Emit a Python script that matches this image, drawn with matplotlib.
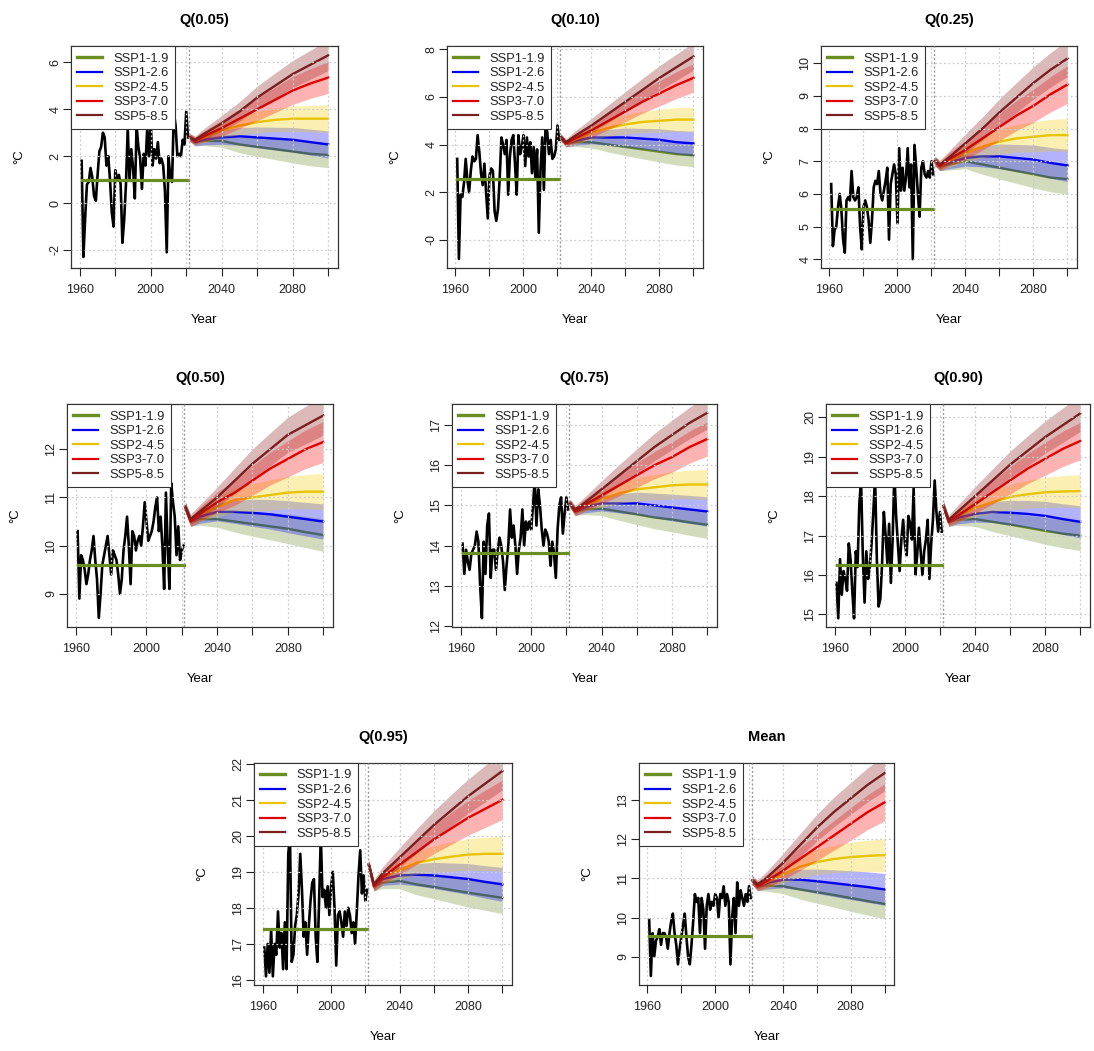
import numpy as np
import matplotlib.pyplot as plt
from matplotlib.lines import Line2D

plt.rcParams['font.family'] = ['Liberation Sans', 'DejaVu Sans']

# ---- data ----
panel_titles = ['Q(0.05)', 'Q(0.10)', 'Q(0.25)', 'Q(0.50)', 'Q(0.75)', 'Q(0.90)', 'Q(0.95)', 'Mean']
hist_years = list(range(1961, 2022))
proj_years = [2022, 2025, 2030, 2040, 2050, 2060, 2070, 2080, 2090, 2100]
scenarios = ['SSP1-1.9', 'SSP1-2.6', 'SSP2-4.5', 'SSP3-7.0', 'SSP5-8.5']

hist_q05 = [1.8, -2.3, -0.6, 0.8, 0.9, 1.5, 1.1, 0.3, 0.1, 1.2, 2.2, 2.4, 3.0, 2.8, 1.6, 2.0, 1.0, -0.4, -1.0, 1.4,
            1.0, 1.2, 0.8, -1.7, -0.7, 0.8, 3.2, 1.0, 2.3, 1.5, 0.2, 3.3, 2.4, 1.9, 0.6, 2.1, 1.6, 3.2, 2.0, 3.4,
            1.6, 2.3, 1.9, 2.6, 1.7, 1.9, 1.6, 0.5, -2.1, 2.0, 1.1, 0.9, 3.9, 3.3, 2.0, 2.1, 2.0, 2.7, 2.5, 3.9, 2.8]
hist_q10 = [3.4, -0.8, 1.9, 1.8, 2.4, 3.4, 2.5, 2.0, 2.9, 3.5, 3.3, 3.4, 4.4, 3.7, 2.8, 2.3, 3.2, 2.0, 0.9, 2.7,
            3.0, 2.9, 1.2, 0.8, 1.3, 2.6, 4.3, 4.0, 3.6, 4.2, 1.9, 3.5, 4.2, 4.4, 3.2, 1.9, 4.4, 3.6, 3.9, 4.4,
            3.1, 4.3, 3.5, 4.1, 2.8, 3.9, 2.6, 3.8, 0.3, 2.9, 4.3, 2.1, 4.9, 4.5, 3.6, 4.2, 3.4, 3.5, 3.8, 4.8, 4.2]
hist_q25 = [6.3, 4.4, 4.9, 5.0, 5.6, 6.0, 5.5, 4.6, 4.2, 5.8, 5.9, 5.8, 6.7, 5.9, 5.8, 5.9, 6.2, 5.0, 4.3, 5.6,
            5.8, 5.6, 5.2, 4.5, 5.2, 6.2, 6.4, 6.3, 6.7, 6.0, 5.8, 6.1, 6.4, 6.8, 4.6, 6.3, 6.6, 6.9, 6.6, 5.1,
            7.4, 6.1, 6.8, 6.1, 6.5, 7.4, 6.2, 6.9, 4.0, 7.5, 6.8, 6.0, 5.3, 6.8, 7.0, 6.6, 6.5, 6.7, 6.5, 7.0, 6.6]
hist_q50 = [10.3, 8.9, 9.8, 9.7, 9.5, 9.2, 9.4, 9.7, 9.9, 10.2, 9.7, 9.3, 8.5, 9.0, 9.6, 9.8, 10.0, 10.2, 9.8, 9.4,
            9.9, 9.8, 9.7, 9.4, 9.0, 9.3, 9.9, 10.2, 10.6, 10.0, 9.2, 10.3, 10.2, 9.9, 10.1, 10.2, 10.0, 10.4, 10.9, 10.5,
            10.1, 10.2, 10.3, 10.5, 10.8, 11.0, 10.3, 10.6, 10.0, 9.1, 11.1, 10.0, 9.1, 11.3, 10.9, 10.6, 9.8, 10.4, 9.7, 9.9, 10.0]
hist_q75 = [14.05, 13.3, 13.9, 13.6, 13.4, 13.8, 13.9, 14.0, 14.35, 14.1, 13.0, 12.2, 14.1, 13.3, 14.5, 14.8, 13.2, 13.9, 13.9, 13.4,
            13.9, 14.2, 14.0, 13.6, 12.9, 13.5, 14.0, 14.9, 14.2, 14.5, 14.0, 13.3, 13.9, 14.2, 14.9, 14.0, 14.6, 14.4, 14.6, 14.4,
            15.0, 15.6, 14.5, 15.4, 15.0, 14.4, 14.0, 14.4, 14.3, 14.1, 13.5, 14.1, 13.8, 13.2, 14.4, 15.0, 15.2, 14.3, 14.8, 15.2, 14.9]
hist_q90 = [15.8, 14.9, 16.4, 15.5, 16.1, 15.9, 15.6, 16.8, 16.4, 15.6, 14.9, 16.6, 16.2, 17.8, 18.4, 16.5, 15.3, 16.6, 15.9, 16.2,
            16.8, 17.6, 18.5, 16.4, 15.2, 15.4, 16.3, 17.6, 17.0, 16.3, 17.3, 15.8, 16.9, 18.6, 17.5, 16.8, 16.1, 16.9, 17.4, 16.8,
            16.5, 17.5, 17.3, 16.9, 18.2, 16.0, 16.5, 17.2, 16.6, 16.0, 16.6, 16.9, 17.4, 15.9, 16.8, 17.4, 18.4, 17.6, 17.1, 17.6, 17.1]
hist_q95 = [16.9, 16.1, 17.0, 16.2, 17.4, 16.1, 17.0, 16.7, 17.9, 16.9, 17.3, 16.3, 17.6, 16.3, 19.5, 20.0, 16.5, 16.7, 17.5, 17.8,
            18.4, 19.5, 18.5, 17.2, 17.6, 16.7, 17.5, 18.2, 18.7, 18.8, 17.2, 16.5, 18.2, 20.0, 18.3, 18.5, 18.0, 18.6, 17.8, 18.6,
            19.0, 18.0, 16.4, 17.8, 17.9, 17.6, 17.2, 17.9, 17.5, 18.0, 17.8, 17.3, 17.6, 17.0, 17.9, 18.9, 19.6, 18.4, 18.9, 18.2, 18.5]
hist_mean = [9.95, 8.5, 9.6, 9.0, 9.4, 9.5, 9.7, 9.3, 9.6, 9.6, 9.5, 9.2, 9.6, 9.9, 10.1, 9.6, 9.3, 8.8, 9.2, 9.5,
             9.8, 10.1, 9.5, 9.0, 8.8, 9.3, 9.9, 10.6, 10.4, 10.5, 9.6, 10.5, 10.2, 9.2, 10.3, 10.6, 10.2, 10.4, 10.3, 10.6,
             10.5, 10.0, 10.6, 10.5, 10.8, 10.3, 10.6, 10.4, 8.8, 10.0, 10.5, 9.6, 10.9, 10.3, 10.7, 10.5, 10.3, 10.6, 10.4, 10.8, 10.5]

# 1961-2021 baseline level (green horizontal line)
baseline = [1.0, 2.55, 5.55, 9.6, 13.82, 16.25, 17.42, 9.52]

# projected central values per scenario, at proj_years
proj_q05 = {'SSP1-1.9': [2.8, 2.6, 2.65, 2.65, 2.5, 2.4, 2.3, 2.2, 2.1, 2.05],
            'SSP1-2.6': [2.8, 2.6, 2.7, 2.8, 2.85, 2.8, 2.75, 2.7, 2.6, 2.5],
            'SSP2-4.5': [2.8, 2.65, 2.8, 3.1, 3.3, 3.45, 3.55, 3.6, 3.6, 3.6],
            'SSP3-7.0': [2.8, 2.65, 2.85, 3.2, 3.6, 4.0, 4.4, 4.8, 5.1, 5.35],
            'SSP5-8.5': [2.8, 2.7, 2.95, 3.4, 3.9, 4.5, 5.0, 5.5, 5.9, 6.3]}
proj_q10 = {'SSP1-1.9': [4.3, 4.05, 4.1, 4.1, 4.0, 3.9, 3.8, 3.7, 3.6, 3.55],
            'SSP1-2.6': [4.3, 4.05, 4.15, 4.3, 4.3, 4.3, 4.25, 4.2, 4.1, 4.05],
            'SSP2-4.5': [4.3, 4.05, 4.2, 4.5, 4.7, 4.85, 4.95, 5.0, 5.05, 5.05],
            'SSP3-7.0': [4.3, 4.05, 4.25, 4.6, 5.0, 5.4, 5.8, 6.15, 6.5, 6.8],
            'SSP5-8.5': [4.3, 4.1, 4.35, 4.8, 5.3, 5.8, 6.3, 6.8, 7.25, 7.7]}
proj_q25 = {'SSP1-1.9': [7.0, 6.85, 6.9, 7.0, 6.9, 6.8, 6.7, 6.6, 6.5, 6.45],
            'SSP1-2.6': [7.0, 6.85, 6.95, 7.1, 7.15, 7.15, 7.1, 7.05, 6.95, 6.87],
            'SSP2-4.5': [7.0, 6.85, 7.0, 7.25, 7.45, 7.6, 7.7, 7.75, 7.8, 7.8],
            'SSP3-7.0': [7.0, 6.85, 7.05, 7.35, 7.7, 8.05, 8.4, 8.7, 9.05, 9.35],
            'SSP5-8.5': [7.0, 6.9, 7.1, 7.55, 8.0, 8.5, 8.95, 9.4, 9.8, 10.15]}
proj_q50 = {'SSP1-1.9': [10.8, 10.5, 10.55, 10.55, 10.5, 10.45, 10.4, 10.35, 10.28, 10.22],
            'SSP1-2.6': [10.8, 10.5, 10.6, 10.7, 10.7, 10.68, 10.65, 10.6, 10.55, 10.5],
            'SSP2-4.5': [10.8, 10.5, 10.65, 10.8, 10.95, 11.0, 11.05, 11.1, 11.12, 11.12],
            'SSP3-7.0': [10.8, 10.5, 10.65, 10.9, 11.1, 11.35, 11.6, 11.8, 12.0, 12.15],
            'SSP5-8.5': [10.8, 10.55, 10.7, 11.0, 11.35, 11.7, 12.0, 12.3, 12.5, 12.7]}
proj_q75 = {'SSP1-1.9': [15.05, 14.85, 14.9, 14.92, 14.85, 14.78, 14.7, 14.65, 14.58, 14.52],
            'SSP1-2.6': [15.05, 14.85, 14.95, 15.05, 15.05, 15.05, 15.0, 14.95, 14.9, 14.85],
            'SSP2-4.5': [15.05, 14.85, 15.0, 15.15, 15.3, 15.4, 15.45, 15.5, 15.52, 15.52],
            'SSP3-7.0': [15.05, 14.85, 15.0, 15.25, 15.5, 15.75, 16.0, 16.2, 16.45, 16.65],
            'SSP5-8.5': [15.05, 14.9, 15.05, 15.4, 15.75, 16.1, 16.45, 16.75, 17.05, 17.3]}
proj_q90 = {'SSP1-1.9': [17.75, 17.35, 17.4, 17.42, 17.35, 17.28, 17.2, 17.12, 17.05, 17.0],
            'SSP1-2.6': [17.75, 17.35, 17.45, 17.55, 17.6, 17.58, 17.55, 17.5, 17.42, 17.35],
            'SSP2-4.5': [17.75, 17.35, 17.5, 17.7, 17.85, 17.98, 18.05, 18.1, 18.12, 18.13],
            'SSP3-7.0': [17.75, 17.35, 17.5, 17.8, 18.1, 18.4, 18.7, 18.95, 19.2, 19.4],
            'SSP5-8.5': [17.75, 17.4, 17.6, 18.0, 18.4, 18.8, 19.15, 19.5, 19.8, 20.1]}
proj_q95 = {'SSP1-1.9': [19.2, 18.6, 18.7, 18.75, 18.65, 18.58, 18.5, 18.42, 18.35, 18.28],
            'SSP1-2.6': [19.2, 18.6, 18.8, 18.9, 18.92, 18.9, 18.85, 18.8, 18.72, 18.65],
            'SSP2-4.5': [19.2, 18.6, 18.85, 19.05, 19.25, 19.35, 19.42, 19.48, 19.5, 19.5],
            'SSP3-7.0': [19.2, 18.6, 18.85, 19.2, 19.55, 19.9, 20.2, 20.5, 20.75, 21.0],
            'SSP5-8.5': [19.2, 18.65, 18.95, 19.4, 19.85, 20.3, 20.7, 21.1, 21.45, 21.8]}
proj_mean = {'SSP1-1.9': [10.95, 10.8, 10.82, 10.8, 10.72, 10.65, 10.58, 10.5, 10.42, 10.35],
             'SSP1-2.6': [10.95, 10.8, 10.88, 10.97, 10.97, 10.93, 10.88, 10.83, 10.78, 10.72],
             'SSP2-4.5': [10.95, 10.8, 10.9, 11.1, 11.3, 11.42, 11.5, 11.55, 11.58, 11.6],
             'SSP3-7.0': [10.95, 10.8, 10.92, 11.2, 11.5, 11.8, 12.1, 12.4, 12.7, 12.95],
             'SSP5-8.5': [10.95, 10.85, 11.0, 11.4, 11.85, 12.3, 12.7, 13.05, 13.4, 13.7]}

# half-width of the uncertainty band per scenario, at proj_years
spread = {'SSP1-1.9': [0.12, 0.12, 0.15, 0.20, 0.26, 0.30, 0.33, 0.36, 0.38, 0.40],
          'SSP1-2.6': [0.12, 0.12, 0.16, 0.22, 0.28, 0.33, 0.36, 0.39, 0.41, 0.43],
          'SSP2-4.5': [0.12, 0.12, 0.16, 0.23, 0.29, 0.34, 0.37, 0.40, 0.42, 0.44],
          'SSP3-7.0': [0.12, 0.12, 0.17, 0.25, 0.31, 0.36, 0.40, 0.44, 0.47, 0.50],
          'SSP5-8.5': [0.12, 0.12, 0.17, 0.25, 0.31, 0.36, 0.40, 0.43, 0.46, 0.48]}
spread_scale = [1.35, 1.2, 1.15, 0.85, 0.85, 0.95, 1.1, 0.95]

hist_all = [hist_q05, hist_q10, hist_q25, hist_q50, hist_q75, hist_q90, hist_q95, hist_mean]
proj_all = [proj_q05, proj_q10, proj_q25, proj_q50, proj_q75, proj_q90, proj_q95, proj_mean]

# ---- styling / layout ----
ylims = [(-2.77, 6.7), (-1.18, 8.14), (3.73, 10.53), (8.31, 12.94),
         (11.98, 17.52), (14.68, 20.34), (15.86, 22.02), (8.27, 13.96)]
ystep = [2, 2, 1, 1, 1, 1, 1, 1]
line_colors = ['#6b8e23', '#0000ee', '#e8c300', '#e00000', '#7a1f1f']
band_colors = ['#6b8e23', '#0000ff', '#f2cf00', '#ff0000', '#8b1a1a']

W, H = 1094, 1051
# (left, right, top, bottom) in pixels
boxes = [(71, 338, 46, 268), (447, 703, 46, 268), (821, 1077, 46, 268),
         (67, 333, 404, 627), (452, 717, 404, 627), (826, 1090, 404, 627),
         (254, 512, 763, 985), (639, 894, 763, 985)]

fig = plt.figure(figsize=(W / 100, H / 100), dpi=100)

for i, title in enumerate(panel_titles):
    l, r, t, b = boxes[i]
    ax = fig.add_axes([l / W, 1 - b / H, (r - l) / W, (b - t) / H])
    wpx, hpx = r - l, b - t

    ax.plot(hist_years, hist_all[i], color='black', lw=1.9, zorder=2)
    ax.plot([hist_years[0], hist_years[-1]], [baseline[i], baseline[i]],
            color='#6b8e23', lw=2.3, zorder=3)
    ax.axvline(2021.5, color='#999999', lw=1.0, ls=(0, (1.5, 1.5)), zorder=3)

    for k, sc in enumerate(scenarios):
        c = np.array(proj_all[i][sc])
        s = np.array(spread[sc]) * spread_scale[i]
        ax.fill_between(proj_years, c - s, c + s, color=band_colors[k], alpha=0.3, lw=0, zorder=2)
        ax.plot(proj_years, c, color=line_colors[k], lw=1.7, zorder=2)

    ax.set_xlim(1955, 2105.6)
    ax.set_ylim(*ylims[i])
    xt = np.arange(1960, 2101, 20)
    ax.set_xticks(xt)
    ax.set_xticklabels([str(x) if x in (1960, 2000, 2040, 2080) else '' for x in xt])
    lo, hi = ylims[i]
    yt = np.arange(np.ceil(lo / ystep[i]) * ystep[i], hi + 1e-9, ystep[i])
    ax.set_yticks(yt)
    ax.set_yticklabels([f'{v:g}' for v in yt], rotation=90, va='center')

    ax.set_axisbelow(False)
    ax.grid(True, color='#cccccc', ls=(0, (1.5, 2)), lw=0.9)
    ax.tick_params(axis='x', direction='out', length=5.5, width=0.8, pad=6, labelsize=9, colors='#222222')
    ax.tick_params(axis='y', direction='out', length=5.5, width=0.8, pad=1.5, labelsize=9, colors='#222222')
    for sp in ax.spines.values():
        sp.set_color('#333333')
        sp.set_linewidth(0.9)

    ax.text(0.5, 1 + 26 / hpx, title, transform=ax.transAxes, ha='center', va='center',
            fontsize=10.5, fontweight='bold')
    ax.text(-52 / wpx, 0.5, '°C', transform=ax.transAxes, rotation=90, ha='center', va='center', fontsize=9.5)
    ax.text(0.5, -52 / hpx, 'Year', transform=ax.transAxes, ha='center', va='center', fontsize=9.5)

    handles = [Line2D([], [], color=line_colors[k], lw=2.4 if k == 0 else 1.6) for k in range(5)]
    leg = ax.legend(handles, scenarios, loc='upper left', borderaxespad=0, fontsize=9.3,
                    frameon=True, fancybox=False, framealpha=1, edgecolor='#333333',
                    handlelength=1.9, handletextpad=0.85, labelspacing=0.2, borderpad=0.5)
    leg.get_frame().set_linewidth(0.8)
    for txt in leg.get_texts():
        txt.set_color('#222222')

fig.savefig('out.png', dpi=100)
